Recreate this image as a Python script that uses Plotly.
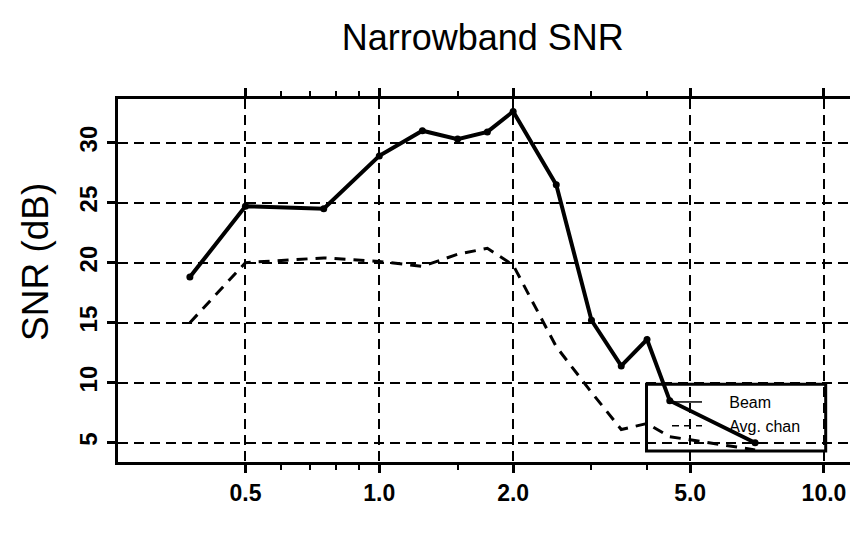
import plotly.graph_objects as go

# Frequency (kHz) and SNR values (dB)
beam_freq = [0.375, 0.5, 0.75, 1.0, 1.25, 1.5, 1.75, 2.0, 2.5, 3.0, 3.5, 4.0, 4.5, 7.0]
beam_snr = [18.8, 24.7, 24.5, 28.9, 31.0, 30.3, 30.9, 32.6, 26.5, 15.2, 11.4, 13.6, 8.5, 5.0]

chan_freq = [0.375, 0.5, 0.75, 1.0, 1.25, 1.5, 1.75, 2.0, 2.5, 3.0, 3.5, 4.0, 4.5, 7.0]
chan_snr = [15.0, 20.0, 20.4, 20.1, 19.7, 20.7, 21.2, 19.8, 13.0, 9.2, 6.1, 6.6, 5.5, 4.4]

x_major = [0.5, 1.0, 2.0, 5.0, 10.0]
x_major_text = ["0.5", "1.0", "2.0", "5.0", "10.0"]
x_minor = [0.6, 0.7, 0.8, 0.9, 1.5, 3.0, 4.0]
y_major = [5, 10, 15, 20, 25, 30]

fig = go.Figure()

fig.add_trace(go.Scatter(
    x=chan_freq, y=chan_snr, mode="lines", showlegend=False,
    line=dict(color="black", width=3, dash="11px,8px"),
))
fig.add_trace(go.Scatter(
    x=beam_freq, y=beam_snr, mode="lines+markers", showlegend=False,
    line=dict(color="black", width=4),
    marker=dict(color="black", size=7),
))

# thin legend samples
nb = "\u00a0" * 5
fig.add_trace(go.Scatter(x=[None], y=[None], mode="lines", name=nb + "Beam",
                         line=dict(color="black", width=1.5)))
fig.add_trace(go.Scatter(x=[None], y=[None], mode="lines", name=nb + "Avg. chan",
                         line=dict(color="black", width=1.5, dash="7px,5px")))

grid = dict(showgrid=True, gridcolor="black", gridwidth=1.8, griddash="10px,6px")

fig.update_xaxes(
    type="log", range=[-0.5876, 1.0585],
    tickmode="array", tickvals=x_major, ticktext=x_major_text,
    ticks="outside", ticklen=8, tickwidth=2.5, tickcolor="black",
    minor=dict(tickmode="array", tickvals=x_minor, ticks="outside",
               ticklen=5, tickwidth=1.5, tickcolor="black", showgrid=False),
    showline=True, linecolor="black", linewidth=3, mirror="ticks",
    tickfont=dict(family="Liberation Sans", size=23, color="black", weight="bold"),
    zeroline=False, **grid,
)
fig.update_yaxes(
    range=[3.39, 33.64],
    tickmode="array", tickvals=y_major,
    ticks="outside", ticklen=8, tickwidth=2.5, tickcolor="black",
    tickangle=-90,
    showline=True, linecolor="black", linewidth=3, mirror=False,
    tickfont=dict(family="Liberation Sans", size=24, color="black", weight="bold"),
    zeroline=False, **grid,
)

# y-axis caption
fig.add_annotation(text="SNR (dB)", xref="paper", yref="paper",
                   x=-0.112, y=0.551, xanchor="center", yanchor="middle",
                   textangle=-90, showarrow=False,
                   font=dict(family="Liberation Sans", size=37, color="black"))

# legend frame
fig.add_shape(type="rect", xref="paper", yref="paper",
              x0=0.722, x1=0.9668, y0=0.0303, y1=0.2143,
              line=dict(color="black", width=3), fillcolor="rgba(0,0,0,0)",
              layer="above")

fig.update_layout(
    width=850, height=534,
    margin=dict(l=118, r=0, t=99, b=72),
    paper_bgcolor="white", plot_bgcolor="white",
    title=dict(text="Narrowband SNR", x=0.568, xanchor="center", xref="container",
               y=0.93, yanchor="middle", yref="container",
               font=dict(family="Liberation Sans", size=36, color="black")),
    legend=dict(x=0.75, xanchor="left", y=0.212, yanchor="top",
                bgcolor="rgba(0,0,0,0)", borderwidth=0,
                font=dict(family="Liberation Sans", size=16, color="black"),
                tracegroupgap=0, itemwidth=30),
    font=dict(family="Liberation Sans", color="black"),
)

fig.write_html("out.html")
